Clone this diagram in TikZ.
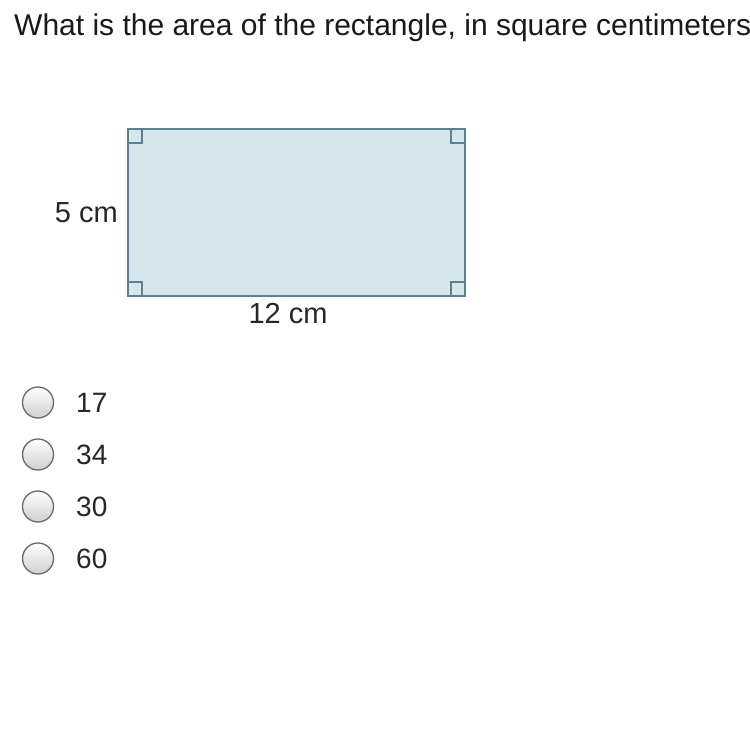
\documentclass[tikz,border=0pt]{standalone}
\usepackage{fontspec}
\setmainfont{Liberation Sans}
\begin{document}
\begin{tikzpicture}[x=1pt,y=-1pt,
  radio/.style={circle, minimum size=31pt, inner sep=0pt, draw=radioline, line width=1.3pt, top color=white, bottom color=radiofill},
  opt/.style={anchor=west, font=\fontsize{28}{32}\selectfont, text=black!85},
  dim/.style={font=\fontsize{29}{33}\selectfont, text=black!85}]
\definecolor{rectline}{HTML}{5E7F8E}
\definecolor{rectfill}{HTML}{D5E6ED}
\definecolor{radioline}{HTML}{6A6A6A}
\definecolor{radiofill}{HTML}{CFCFCF}
\useasboundingbox (0,0) rectangle (750,750);
\clip (0,0) rectangle (750,750);
\fill[white] (0,0) rectangle (750,750);
\node[anchor=base west, inner sep=0pt, font=\fontsize{30}{34}\selectfont, text=black!90] (title) at (14,35) {What is the area of the rectangle, in square centimeters};
\coordinate (tl) at (128,129);
\coordinate (br) at (465,296);
\filldraw[fill=rectfill, draw=rectline, line width=2pt] (tl) rectangle (br);
\draw[rectline, line width=1.6pt] (128,143) -- (142,143) -- (142,129);
\draw[rectline, line width=1.6pt] (465,143) -- (451,143) -- (451,129);
\draw[rectline, line width=1.6pt] (128,282) -- (142,282) -- (142,296);
\draw[rectline, line width=1.6pt] (465,282) -- (451,282) -- (451,296);
\node[dim, anchor=east, inner sep=0pt] (h) at (118,213) {5 cm};
\node[dim, inner sep=0pt] (w) at (288,314) {12 cm};
\foreach \y/\t [count=\i] in {402.5/17,454.5/34,506.5/30,558.5/60}{
  \node[radio] (r\i) at (38,\y) {};
  \node[opt, inner sep=0pt] (o\i) at (76,\y) {\t};
}
\end{tikzpicture}
\end{document}
